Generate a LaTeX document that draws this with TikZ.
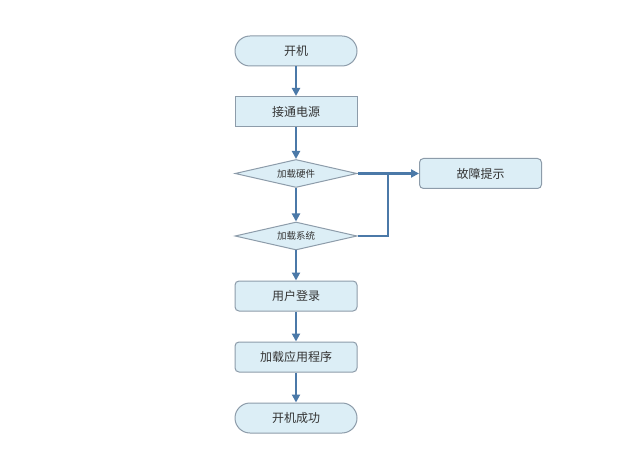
\documentclass[tikz,border=0pt]{standalone}
\usepackage{fontspec}
\setmainfont{Noto Sans CJK SC}
\usetikzlibrary{shapes.geometric,arrows.meta}
\definecolor{boxfill}{HTML}{DCEEF6}
\definecolor{boxline}{HTML}{8D9CAA}
\definecolor{arrowc}{HTML}{4B79A8}
\begin{document}
\begin{tikzpicture}[x=1pt,y=-1pt,
  base/.style={draw=boxline,fill=boxfill,line width=1pt,minimum width=122pt,minimum height=30pt,inner sep=0pt,font=\fontsize{12}{14}\selectfont,text=black!80},
  stadium/.style={base,rectangle,rounded corners=15pt},
  sqbox/.style={base,rectangle},
  rbox/.style={base,rectangle,rounded corners=4pt},
  dia/.style={base,diamond,aspect=4.4,minimum width=122pt,minimum height=28pt,font=\fontsize{9.5}{11}\selectfont},
  conn/.style={draw=arrowc,line width=2.6pt,-{Triangle[length=8pt,width=8pt]}},
  line/.style={draw=arrowc,line width=2.6pt}]
\useasboundingbox (0,0) rectangle (631,454);
\fill[white] (0,0) rectangle (631,454);
\node[stadium] (start) at (296,51) {开机};
\node[sqbox] (power) at (296,111.5) {接通电源};
\node[dia] (hw) at (296,173.5) {加载硬件};
\node[dia] (sys) at (296,236) {加载系统};
\node[rbox] (err) at (480.5,173.5) {故障提示};
\node[rbox] (login) at (296,296) {用户登录};
\node[rbox] (app) at (296,357) {加载应用程序};
\node[stadium] (done) at (296,418) {开机成功};
\coordinate (j) at (388,173.5);
\draw[conn] (start) -- (power);
\draw[conn] (power) -- (hw);
\draw[conn] (hw) -- (sys);
\draw[conn] (sys) -- (login);
\draw[conn] (login) -- (app);
\draw[conn] (app) -- (done);
\draw[conn] (hw.east) -- (err.west);
\draw[line] (sys.east) -| (j);
\end{tikzpicture}
\end{document}
